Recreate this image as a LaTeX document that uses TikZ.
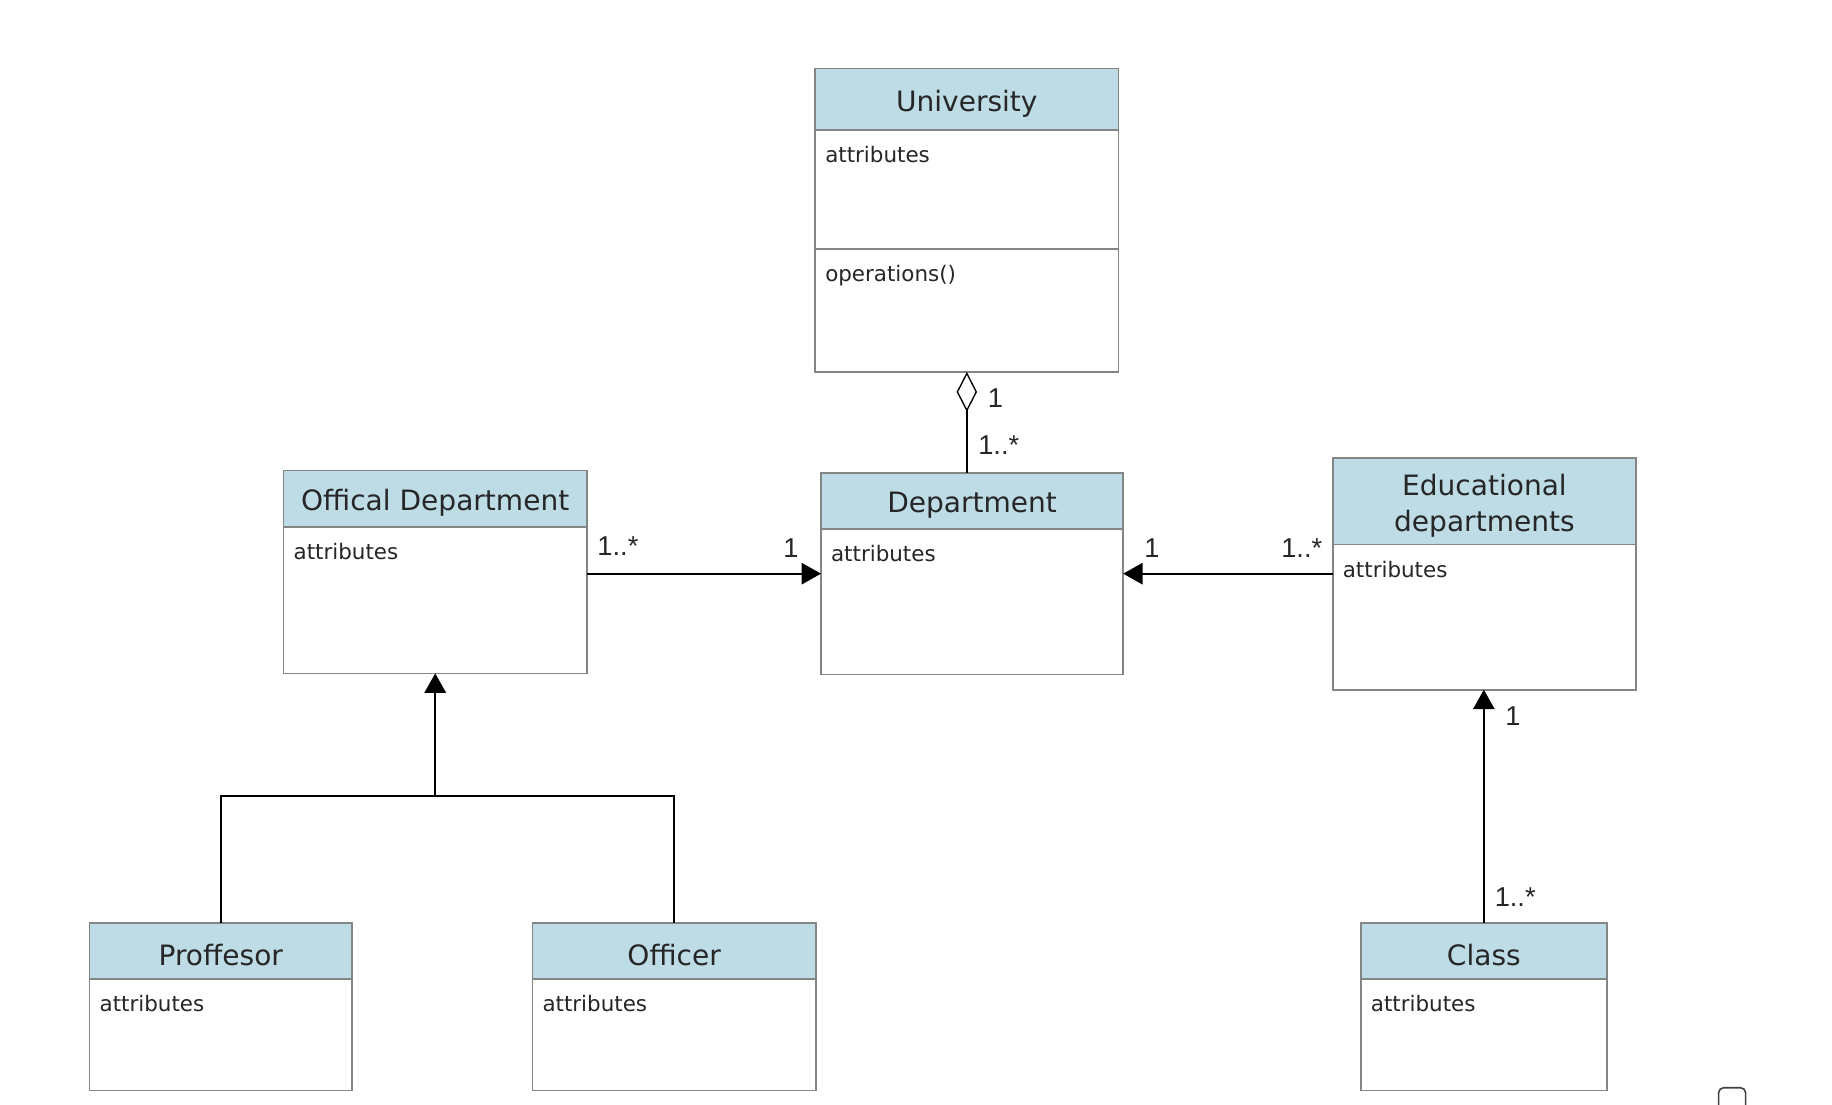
\documentclass[tikz,border=0pt]{standalone}
\usepackage{fontspec}
\setmainfont{DejaVu Sans}
\newfontfamily\multfont{Liberation Sans}
\usetikzlibrary{arrows.meta,fit}
\definecolor{hdr}{HTML}{BEDCE6}
\definecolor{bord}{HTML}{858585}

% #1 name, #2 x1, #3 y1, #4 x2, #5 y2, #6 header bottom, #7 title
\newcommand\umlclass[7]{%
  \node[fit={(#2,#3) (#4,#5)}, inner sep=0pt, fill=white] (#1) {};
  \fill[hdr] (#2,#3) rectangle (#4,#6);
  \draw[bord, line width=0.9pt] (#2,#6) -- (#4,#6);
  \draw[bord, line width=0.9pt] (#1.north west) rectangle (#1.south east);
  \node[titletext] (#1-title) at ({(#2+#4)/2},{(#3+#6)/2+3.5}) {#7};
  \node[attrtext] (#1-attr) at ({#2+8},{#6+28}) {attributes};
}

\begin{document}
\begin{tikzpicture}[x=0.6pt,y=-0.6pt,
  titletext/.style={font=\fontsize{14.4}{18.5}\selectfont, text=black!85, align=center, inner sep=0pt},
  attrtext/.style={font=\fontsize{11}{13}\selectfont, text=black!85, anchor=base west, inner sep=0pt},
  mult/.style={font=\multfont\fontsize{14}{16}\selectfont, text=black!85, inner sep=0pt},
  conn/.style={line width=1pt, black},
  tri/.style={-{Triangle[length=10pt,width=11pt]}},
]
\useasboundingbox (0,0) rectangle (1568,945);

\umlclass{uni}{698}{59}{957}{318}{111}{University}
\draw[bord, line width=0.9pt] (698,213) -- (957,213);
\node[attrtext] (uni-ops) at (706,241) {operations()};

\umlclass{dep}{703}{405}{961}{577}{453}{Department}
\umlclass{offdep}{243}{403}{502}{576}{451}{Offical Department}
\umlclass{edu}{1141}{392}{1400}{590}{466}{Educational\\departments}
\umlclass{prof}{77}{790}{301}{933}{838}{Proffesor}
\umlclass{offi}{456}{790}{698}{933}{838}{Officer}
\umlclass{cls}{1165}{790}{1375}{933}{838}{Class}

% aggregation
\draw[conn, {Diamond[open, fill=white, length=20.5pt, width=10.5pt, line width=0.7pt]}-] (uni.south) -- (uni.south |- dep.north);
\node[mult] (m1) at (852,341) {1};
\node[mult, anchor=west] (m2) at (837,381) {1..*};

% associations
\draw[conn, tri] (offdep.east |- 0,491) -- (dep.west |- 0,491);
\node[mult, anchor=west] (m3) at (511,467) {1..*};
\node[mult] (m4) at (677,469) {1};

\draw[conn, tri] (edu.west |- 0,491) -- (dep.east |- 0,491);
\node[mult] (m5) at (986,469) {1};
\node[mult, anchor=east] (m6) at (1132,469) {1..*};

\draw[conn, tri] (cls.north) -- (cls.north |- edu.south);
\node[mult] (m7) at (1295,613) {1};
\node[mult, anchor=west] (m8) at (1279,768) {1..*};

% generalization
\coordinate (junc) at (offdep.south |- 0,681);
\draw[conn] (prof.north) |- (junc) -| (offi.north);
\draw[conn, tri] (junc) -- (offdep.south);

% small widget at the bottom edge
\begin{scope}
\clip (0,0) rectangle (1568,945);
\draw[black!75, line width=0.8pt, rounded corners=2.5pt] (1471,931) rectangle (1494,955);
\end{scope}
\end{tikzpicture}
\end{document}
